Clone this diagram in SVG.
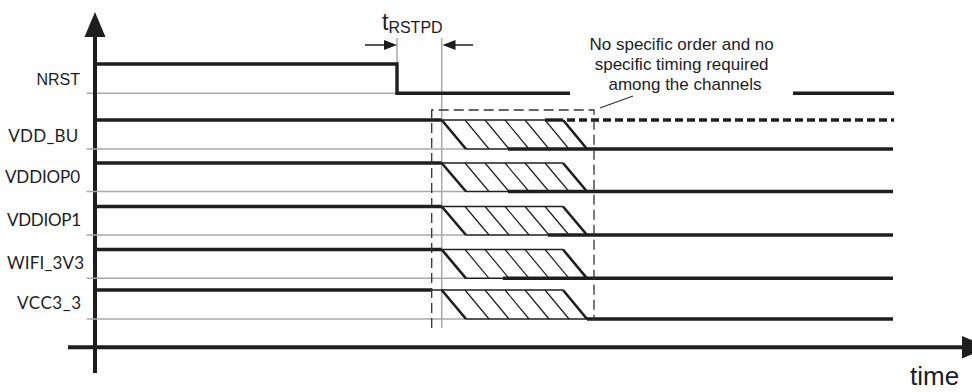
<svg xmlns="http://www.w3.org/2000/svg" width="972" height="392" viewBox="0 0 972 392">
<style>
.lbl{font-family:"Lato","Liberation Sans",sans-serif;font-size:17px;fill:#1c1c28;text-anchor:end}
.arial{font-family:"Liberation Sans",Arial,sans-serif;fill:#1c1c28}
.gray{stroke:#a8a8a8;stroke-width:1.5;fill:none}
.sig{stroke:#1e1e1e;stroke-width:3.4;fill:none}
.edge{stroke:#1e1e1e;stroke-width:1.6;fill:none}
.fall{stroke:#1e1e1e;stroke-width:2.6;fill:none}
.hatch{stroke:#1e1e1e;stroke-width:1.2;fill:none}
.axis{stroke:#1e1e1e;stroke-width:4;fill:none}
.dash{stroke:#333;stroke-width:1.3;fill:none;stroke-dasharray:10 5}
</style>
<rect width="972" height="392" fill="#fff"/>

<g id="guides">
<line class="gray" x1="397" y1="38" x2="397" y2="64"/>
<line class="gray" x1="441.7" y1="38" x2="441.7" y2="328"/>
<line class="gray" x1="86.7" y1="93.3" x2="397" y2="93.3"/>
</g>

<g id="axes">
<line class="axis" x1="95" y1="30" x2="95" y2="373"/>
<polygon points="95,12 84.5,37 105.5,37" fill="#1e1e1e"/>
<line class="axis" x1="68" y1="347.3" x2="966" y2="347.3"/>
<polygon points="988,347.3 962,336 962,358.6" fill="#1e1e1e"/>
<text class="arial" x="910" y="385" font-size="26">time</text>
</g>

<g id="nrst">
<text class="arial" x="80" y="85" font-size="16" text-anchor="end">NRST</text>
<path class="sig" d="M95,64 H397 V93.3 H570"/>
<path class="sig" d="M793,93.3 H894"/>
</g>

<g id="vdd_bu">
<text class="lbl" x="78.3" y="141.7" textLength="70">VDD_BU</text>
<line class="gray" x1="86.7" y1="149" x2="466" y2="149"/>
<line class="sig" x1="95" y1="120" x2="441.7" y2="120"/>
<line class="edge" x1="441.7" y1="120" x2="545" y2="120"/>
<line class="sig" x1="545" y1="120" x2="563" y2="120"/>
<line class="sig" x1="567" y1="120" x2="894" y2="120" stroke-dasharray="8 4"/>
<path class="fall" d="M441.7,120 L466,149 M563,120 L587,149"/>
<path class="hatch" d="M465,120 L489,149 M485,120 L509,149 M505,120 L529,149 M525,120 L549,149 M545,120 L569,149"/>
<line class="edge" x1="466" y1="149" x2="508" y2="149"/>
<line class="sig" x1="508" y1="149" x2="893" y2="149"/>
</g>

<g id="vddiop0">
<text class="lbl" x="80" y="183.3" textLength="75">VDDIOP0</text>
<line class="gray" x1="86.7" y1="191.5" x2="466" y2="191.5"/>
<line class="sig" x1="95" y1="163" x2="441.7" y2="163"/>
<line class="edge" x1="441.7" y1="163" x2="563" y2="163"/>
<path class="fall" d="M441.7,163 L466,191.5 M563,163 L587,191.5"/>
<path class="hatch" d="M465,163 L489,191.5 M485,163 L509,191.5 M505,163 L529,191.5 M525,163 L549,191.5 M545,163 L569,191.5"/>
<line class="edge" x1="466" y1="191.5" x2="508" y2="191.5"/>
<line class="sig" x1="508" y1="191.5" x2="893" y2="191.5"/>
</g>

<g id="vddiop1">
<text class="lbl" x="81" y="226" textLength="74">VDDIOP1</text>
<line class="gray" x1="86.7" y1="235" x2="466" y2="235"/>
<line class="sig" x1="95" y1="206.5" x2="441.7" y2="206.5"/>
<line class="edge" x1="441.7" y1="206.5" x2="563" y2="206.5"/>
<path class="fall" d="M441.7,206.5 L466,235 M563,206.5 L587,235"/>
<path class="hatch" d="M465,206.5 L489,235 M485,206.5 L509,235 M505,206.5 L529,235 M525,206.5 L549,235 M545,206.5 L569,235"/>
<line class="edge" x1="466" y1="235" x2="548" y2="235"/>
<line class="sig" x1="548" y1="235" x2="893" y2="235"/>
</g>

<g id="wifi_3v3">
<text class="lbl" x="84" y="269.3" textLength="77">WIFI_3V3</text>
<line class="gray" x1="86.7" y1="278.3" x2="466" y2="278.3"/>
<line class="sig" x1="95" y1="249.5" x2="441.7" y2="249.5"/>
<line class="edge" x1="441.7" y1="249.5" x2="563" y2="249.5"/>
<path class="fall" d="M441.7,249.5 L466,278.3 M563,249.5 L587,278.3"/>
<path class="hatch" d="M465,249.5 L489,278.3 M485,249.5 L509,278.3 M505,249.5 L529,278.3 M525,249.5 L549,278.3 M545,249.5 L569,278.3"/>
<line class="edge" x1="466" y1="278.3" x2="503" y2="278.3"/>
<line class="sig" x1="503" y1="278.3" x2="893" y2="278.3"/>
</g>

<g id="vcc3_3">
<text class="lbl" x="81" y="309.3" textLength="64">VCC3_3</text>
<line class="gray" x1="86.7" y1="319" x2="466" y2="319"/>
<line class="sig" x1="95" y1="290" x2="431" y2="290"/>
<line class="edge" x1="431" y1="290" x2="563" y2="290"/>
<path class="fall" d="M441.7,290 L466,319 M563,290 L587,319"/>
<path class="hatch" d="M465,290 L489,319 M485,290 L509,319 M505,290 L529,319 M525,290 L549,319 M545,290 L569,319"/>
<line class="edge" x1="466" y1="319" x2="587" y2="319" stroke-width="2"/>
<line class="sig" x1="587" y1="319" x2="893" y2="319"/>
</g>

<g id="window">
<path class="dash" d="M431.7,328 V110 H594 V320"/>
</g>

<g id="t_rstpd">
<text class="arial" x="382" y="30" font-size="23">t<tspan font-size="16" dy="3">RSTPD</tspan></text>
</g>

<g id="note">
<text class="arial" font-size="17" text-anchor="middle">
<tspan x="684" y="50">No specific order and no</tspan>
<tspan x="684" y="70">specific timing required</tspan>
<tspan x="685" y="90">among the channels</tspan>
</text>
</g>

<g id="connectors">
<line x1="365" y1="45" x2="388" y2="45" stroke="#1e1e1e" stroke-width="1.5"/>
<polygon points="397,45 384,40 384,50" fill="#1e1e1e"/>
<line x1="473" y1="45" x2="452" y2="45" stroke="#1e1e1e" stroke-width="1.5"/>
<polygon points="442.5,45 455.5,40 455.5,50" fill="#1e1e1e"/>
<line x1="600" y1="108" x2="633" y2="96" stroke="#333" stroke-width="1.3"/>
</g>
</svg>
